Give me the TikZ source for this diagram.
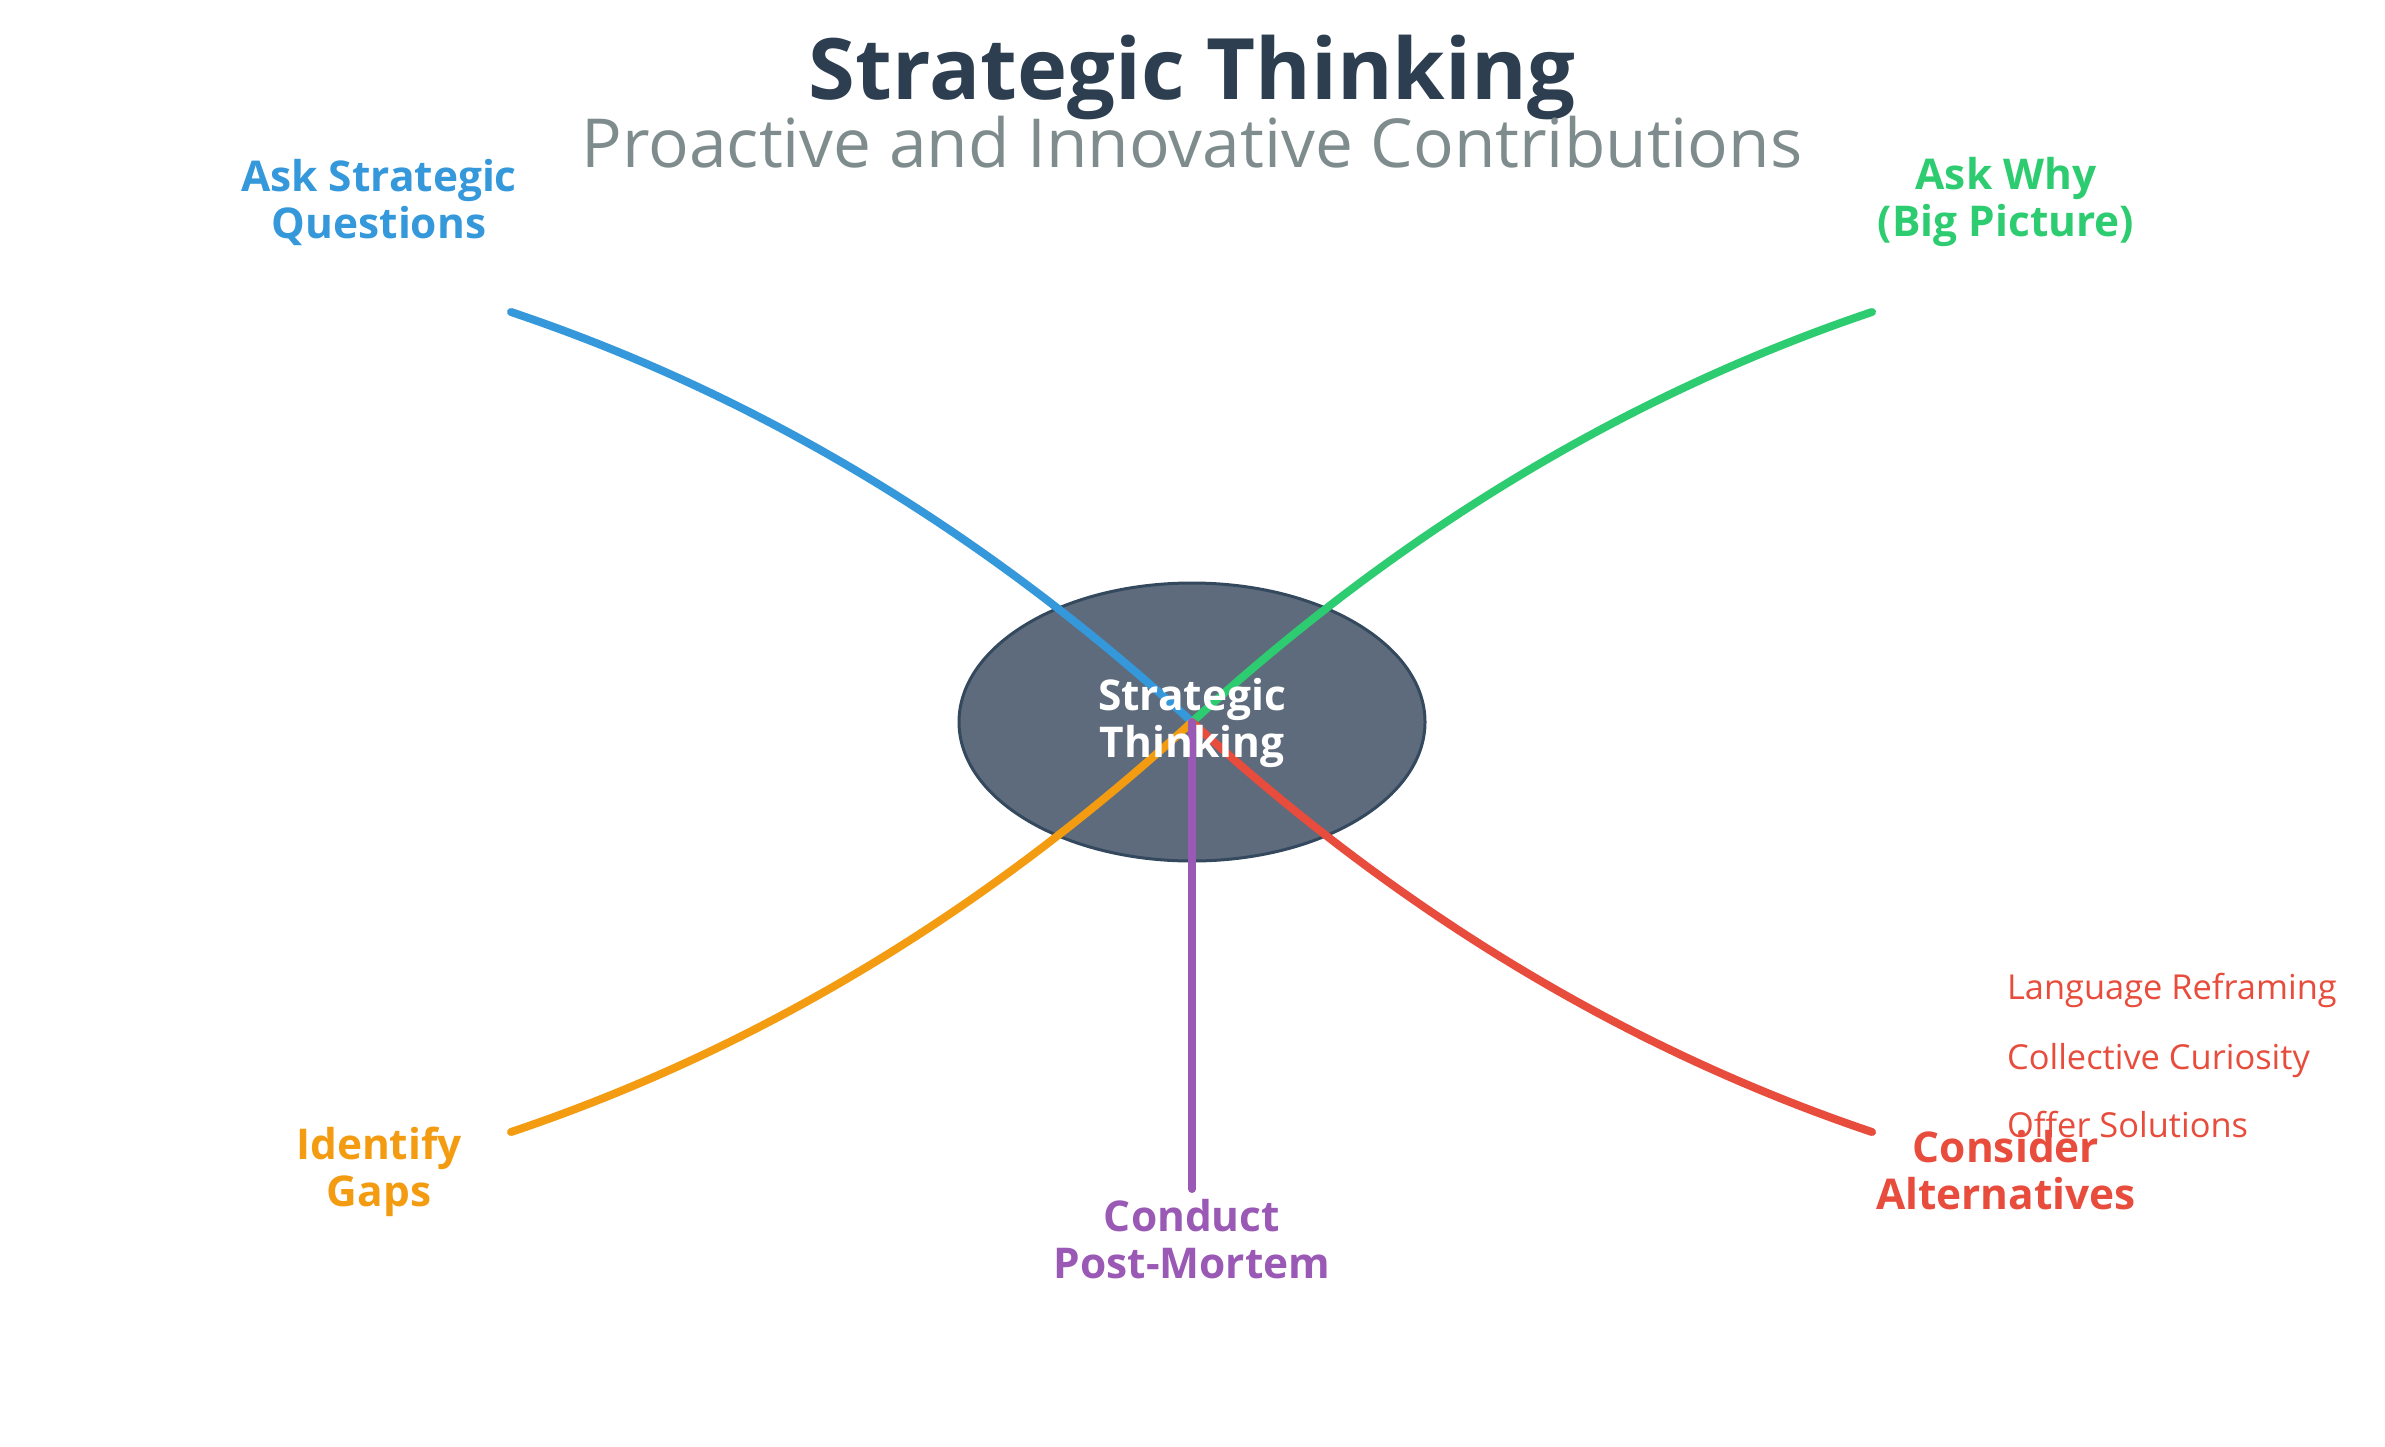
\documentclass[tikz,border=0pt]{standalone}
\usepackage{fontspec}
\setmainfont{Open Sans}
\usetikzlibrary{positioning,shapes.geometric}
\definecolor{titlecol}{HTML}{2C3E50}
\definecolor{subcol}{HTML}{7F8C8D}
\definecolor{hubfill}{HTML}{5D6B7C}
\definecolor{hubline}{HTML}{34495E}
\definecolor{bluecol}{HTML}{3498DB}
\definecolor{greencol}{HTML}{2ECC71}
\definecolor{orangecol}{HTML}{F39C12}
\definecolor{redcol}{HTML}{E74C3C}
\definecolor{purplecol}{HTML}{9B59B6}

\begin{document}
\begin{tikzpicture}[
  x=0.5pt, y=-0.5pt,
  branch/.style={line width=4pt, line cap=round},
  lbl/.style={align=center, font=\fontsize{21.2}{23.5}\selectfont\bfseries},
  item/.style={anchor=base west, text=redcol, font=\fontsize{17.2}{20}\selectfont},
]
  \useasboundingbox (0,0) rectangle (2385,1446);

  % title
  \node[anchor=base, text=titlecol, font=\fontsize{42.4}{48}\selectfont\bfseries] (title) at (1192,99) {Strategic Thinking};
  \node[anchor=base, text=subcol, font=\fontsize{33.8}{40}\selectfont] (subtitle) at (1192,167) {Proactive and Innovative Contributions};

  % central topic
  \node[ellipse, draw=hubline, line width=1.5pt, fill=hubfill, minimum width=233pt, minimum height=139pt] (hub) at (1192,722) {};

  % branch ends
  \coordinate (askqend) at (511,312);
  \coordinate (whyend) at (1872,312);
  \coordinate (gapsend) at (511,1132);
  \coordinate (altsend) at (1872,1132);
  \coordinate (pmend) at (1192,1189);

  \draw[branch, bluecol] (askqend) .. controls (758,395) and (985,532) .. (hub.center);
  \draw[branch, greencol] (whyend) .. controls (1626,395) and (1399,532) .. (hub.center);
  \draw[branch, orangecol] (gapsend) .. controls (758,1049) and (985,912) .. (hub.center);
  \draw[branch, redcol] (altsend) .. controls (1626,1049) and (1399,912) .. (hub.center);
  \draw[branch, purplecol] (pmend) -- (hub.center);

  \node[lbl, text=white] (hubtext) at (1192,723) {Strategic\\Thinking};

  % branch labels
  \node[lbl, text=bluecol] (askq) at (379,202) {Ask Strategic\\Questions};
  \node[lbl, text=greencol] (why) at (2006,202) {Ask Why\\(Big Picture)};
  \node[lbl, text=orangecol] (gaps) at (379,1172) {Identify\\Gaps};
  \node[lbl, text=redcol] (alts) at (2006,1170) {Consider\\Alternatives};
  \node[lbl, text=purplecol] (pm) at (1192,1239) {Conduct\\Post-Mortem};

  % sub items
  \node[item] (reframe) at (2000,999) {Language Reframing};
  \node[item] (curious) at (2000,1069) {Collective Curiosity};
  \node[item] (offer) at (2000,1137) {Offer Solutions};
\end{tikzpicture}
\end{document}
